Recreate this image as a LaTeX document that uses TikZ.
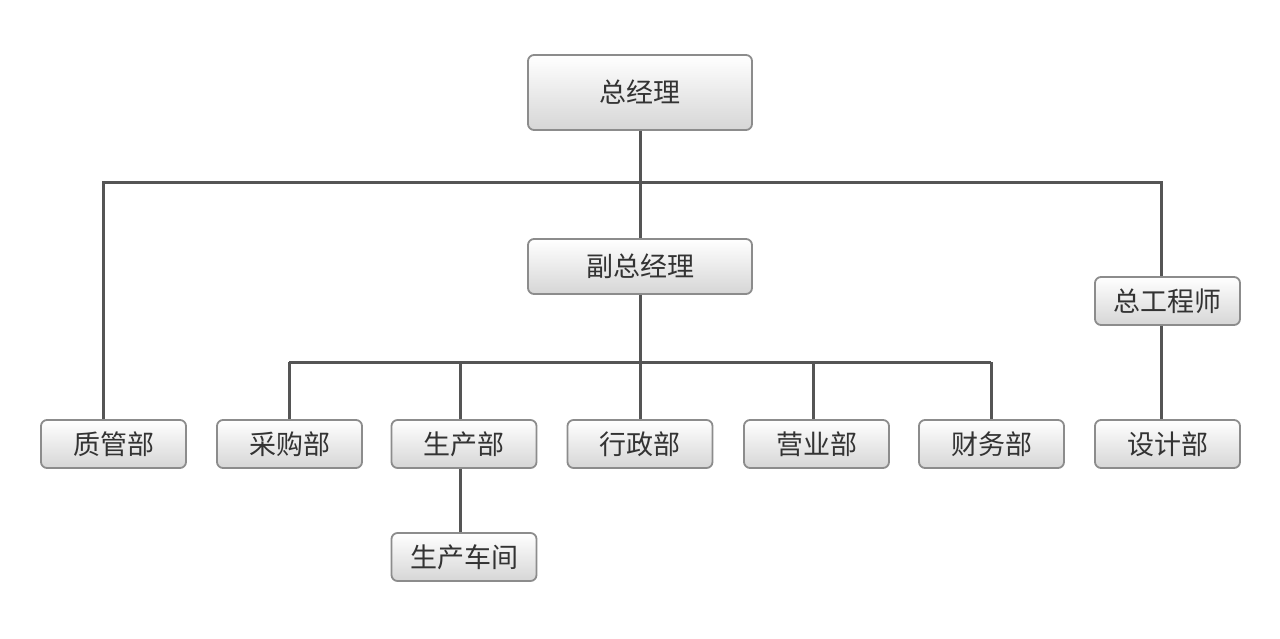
\documentclass[tikz,border=0pt]{standalone}
\usepackage{fontspec}
\newfontfamily\cjk{Noto Sans CJK SC}
\definecolor{linegray}{RGB}{85,85,85}
\definecolor{boxline}{RGB}{140,140,140}
\definecolor{boxbottom}{RGB}{214,214,214}
\definecolor{textgray}{RGB}{51,51,51}
\tikzset{
    unit/.style = {rectangle, rounded corners=6pt, draw=boxline, line width=1.8pt,
        top color=white, bottom color=boxbottom, text=textgray,
        font=\cjk\fontsize{27}{30}\selectfont, minimum width=145pt, minimum height=48pt, inner sep=0pt},
    link/.style = {draw=linegray, line width=3pt}
}

\begin{document}
\begin{tikzpicture}[x=1pt,y=-1pt]
    \useasboundingbox (0,0) rectangle (1280,639);

    \node[unit, minimum width=224pt, minimum height=75pt] (zjl) at (640,92.5) {总经理};
    \node[unit, minimum width=224pt, minimum height=55pt] (fzjl) at (640,266.5) {副总经理};
    \node[unit] (zgcs) at (1167.5,301) {总工程师};

    \node[unit] (zgb) at (113.5,444) {质管部};
    \node[unit] (cgb) at (289.5,444) {采购部};
    \node[unit] (scb) at (464,444) {生产部};
    \node[unit] (xzb) at (640,444) {行政部};
    \node[unit] (yyb) at (816.5,444) {营业部};
    \node[unit] (cwb) at (991.5,444) {财务部};
    \node[unit] (sjb) at (1167.5,444) {设计部};
    \node[unit] (sccj) at (464,557) {生产车间};

    % upper level
    \coordinate (busA) at (640,183);
    \coordinate (left) at (103,183);
    \coordinate (right) at (1161,183);
    \draw[link] (zjl.south) -- (fzjl.north);
    \draw[link] (left |- zgb.north) -- (left) -- (right) -- (right |- zgcs.north);
    \draw[link] (right |- zgcs.south) -- (right |- sjb.north);

    % departments
    \coordinate (busB) at (640,362);
    \draw[link] (fzjl.south) -- (busB);
    \draw[link] (289,362) -- (991,362);
    \foreach \n/\x in {cgb/289, scb/460, xzb/640, yyb/813, cwb/991}
        \draw[link] (\x,362) -- (\x,0 |- \n.north);
    \draw[link] (460,0 |- scb.south) -- (460,0 |- sccj.north);
\end{tikzpicture}
\end{document}
